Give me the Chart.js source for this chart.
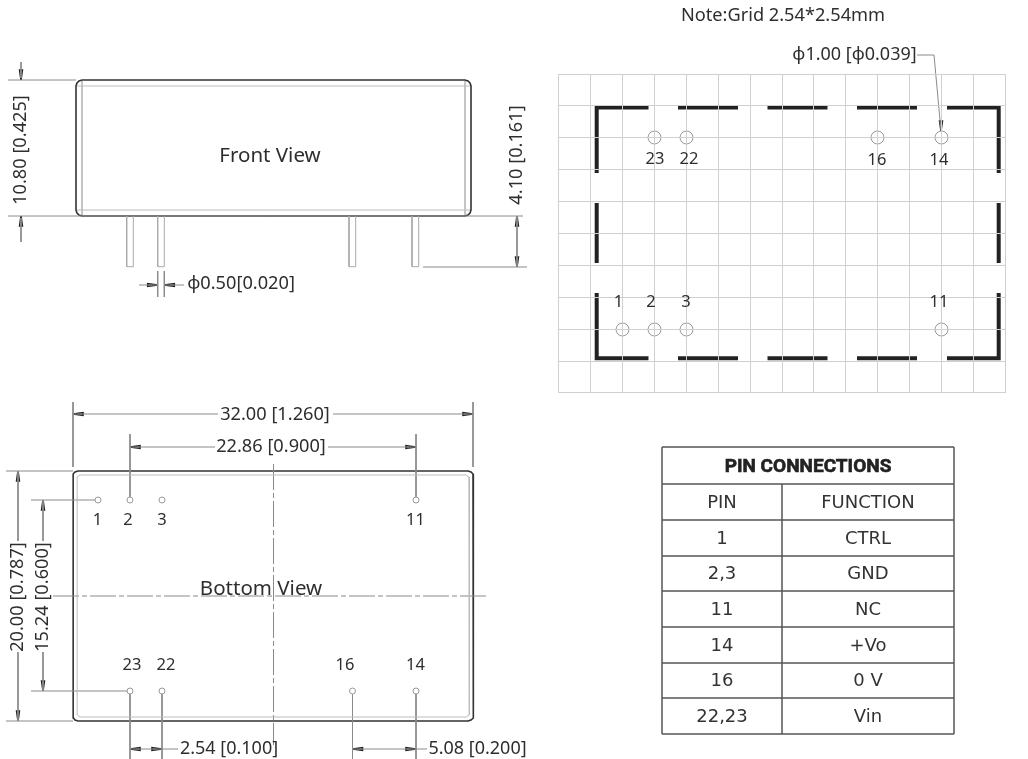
<!DOCTYPE html>
<html><head><meta charset="utf-8">
<style>html,body{margin:0;padding:0;background:#fff}canvas{display:block;filter:blur(0.35px)}</style>
<script src="https://cdn.jsdelivr.net/npm/chart.js@4"></script>
</head><body><canvas id="c" width="1028" height="759"></canvas>
<script>
// Drawing geometry, in drawing units, as polylines [x1,y1,x2,y2,...]
const frontOutline=[[82,80,465,80,468,81,470,83,471,86,471,210,470,213,468,215,465,216,82,216,79,215,77,213,76,210,76,86,77,83,79,81,82,80]];
const frontInner=[[82,81,82,215],[465,81,465,215],[77,86,470,86],[77,210,470,210]];
const frontPins=[[126.7,216,126.7,266.7,133.3,266.7,133.3,216],[157.7,216,157.7,266.7,164.3,266.7,164.3,216],[349,216,349,266.7,355.7,266.7,355.7,216],[412,216,412,266.7,418.7,266.7,418.7,216]];
const frontDims=[[8,80,76,80],[21,62,21,78],[8,216,523,216],[21,218,21,242],[517,216,517,267],[423,267,527,267],[157.7,271,157.7,297],[164.3,271,164.3,297],[139,285,157,285],[165,285,184,285]];
const gridX=[558.5,590.5,622.5,654.5,686.5,718.5,750.5,782.5,813.5,845.5,877.5,909.5,941.5,973.5,1005.5];
const gridY=[74.5,105.5,137.5,169.5,201.5,233.5,265.5,297.5,329.5,361.5,392.5];
const padThick=[[596.7,173,596.7,107.5,648.5,107.5],[678,107.5,738,107.5],[767.5,107.5,827.5,107.5],[857,107.5,917,107.5],[947,107.5,998.7,107.5,998.7,173],[596.7,203,596.7,263],[998.7,203,998.7,263],[596.7,293,596.7,358.3,648.5,358.3],[678,358.3,738,358.3],[767.5,358.3,827.5,358.3],[857,358.3,917,358.3],[947,358.3,998.7,358.3,998.7,293]];
const padLeader=[[917,55,934,55,941,131]];
const padPinX=[654.5,686.5,877.5,941.5,622.5,654.5,686.5,941.5];
const padPinY=[137.5,137.5,137.5,137.5,329.5,329.5,329.5,329.5];
const bottomOutline=[[78,471,468,471,471,472,473,474,473.5,477,473.5,715,473,718,471,720,468,721,78,721,75,720,73.5,718,73,715,73,477,73.5,474,75,472,78,471]];
const bottomInner=[[80,475,466,475,469,477,469.5,480,469.5,712,469,715,466,717,80,717,77.5,715,77,712,77,480,77.5,477,80,475]];
const bottomCenter=[[53,596,486,596],[273.5,464,273.5,745]];
const bottomDims=[[73,402,73,467],[473,402,473,467],[73,414,218,414],[333,414,473,414],[130,434,130,497],[416,434,416,497],[130,447,215,447],[328,447,416,447],[6,471,73,471],[6,721,73,721],[18,471,18,541],[18,652,18,721],[43,500,43,541],[43,652,43,691],[31,500,95,500],[31,691,127,691],[130,694,130,759],[162,694,162,759],[352.5,694,352.5,759],[416,694,416,759],[130,749,178,749],[352.5,749,427,749]];
const bottomPinX=[98,130,162,416,130,162,352.5,416];
const bottomPinY=[500,500,500,500,691,691,691,691];
// arrow heads: tip x, tip y, direction
const arrowTips=[[21,80,'d'],[21,216,'u'],[517,216,'u'],[517,267,'d'],[157.7,285,'r'],[164.3,285,'l'],[941,131,'d'],[73,414,'l'],[473,414,'r'],[130,447,'l'],[416,447,'r'],[18,471,'u'],[18,721,'d'],[43,500,'u'],[43,691,'d'],[130,749,'l'],[162,749,'r'],[352.5,749,'l'],[416,749,'r']];
// Table
const tableX=[662,782,954];
const tableY=[447,484,520,556,591,627,663,698,734];
const pinColumn=['PIN','1','2,3','11','14','16','22,23'];
const functionColumn=['FUNCTION','CTRL','GND','NC','+Vo','0 V','Vin'];
const tableTitle='PIN CONNECTIONS';
// Texts: string, x, y, size, rotated?
const labelTexts=['Note:Grid 2.54*2.54mm','ϕ1.00 [ϕ0.039]','Front View','10.80 [0.425]','4.10 [0.161]','ϕ0.50[0.020]','Bottom View','32.00 [1.260]','22.86 [0.900]','20.00 [0.787]','15.24 [0.600]','2.54 [0.100]','5.08 [0.200]'];
const labelX=[783,854.5,270,21,517,241,261,275,271,18,43,229,477.5];
const labelY=[16,55,156,150,155,284,589,415,447,597,597,749,749];
const labelSize=[18.2,18,20.5,18.2,18.2,18.2,20.5,18.2,18.2,18.2,18.2,18,18];
const labelRot=[0,0,0,1,1,0,0,0,0,1,1,0,0];
const pinLabels=['23','22','16','14','1','2','3','11','1','2','3','11','23','22','16','14'];
const pinLabelX=[655,689,877,939,618.5,651,686,939,97.5,128,162,415.5,132,166,345,415.5];
const pinLabelY=[159,159,160,160,302,302,302,302,520,520,520,520,665,665,665,665];

const INK='#2e2e2e';
function seg(list){const o=[];list.forEach(s=>{for(let i=0;i<s.length;i+=2)o.push({x:s[i],y:s[i+1]});o.push({x:NaN,y:NaN});});return o;}
function line(label,list,color,width,dash){return {label,data:seg(list),showLine:true,spanGaps:false,borderColor:color,backgroundColor:color,borderWidth:width,borderDash:dash||[],pointRadius:0,pointHoverRadius:0,clip:false,borderJoinStyle:'miter',borderCapStyle:'butt'};}
function dots(label,xs,ys,r){return {label,data:xs.map((x,i)=>({x,y:ys[i]})),showLine:false,pointRadius:r,pointHoverRadius:r,pointBackgroundColor:'rgba(255,255,255,0)',pointBorderColor:'#999',pointBorderWidth:1,clip:false};}
const L=10,W=1.4;
const arrowShapes=arrowTips.map(([x,y,d])=>{
  if(d==='l')return [x,y,x+L,y-W,x+L,y+W,x,y];
  if(d==='r')return [x,y,x-L,y-W,x-L,y+W,x,y];
  if(d==='u')return [x,y,x-W,y+L,x+W,y+L,x,y];
  return [x,y,x-W,y-L,x+W,y-L,x,y];
});
const gridSegs=[...gridX.map(x=>[x,74,x,393]),...gridY.map(y=>[558,y,1006,y])];
const tableSegs=[...tableY.map(y=>[tableX[0],y,tableX[2],y]),[tableX[0],tableY[0],tableX[0],tableY[8]],[tableX[2],tableY[0],tableX[2],tableY[8]],[tableX[1],tableY[1],tableX[1],tableY[8]]];

const textPlugin={id:'drawingText',afterDatasetsDraw(chart){
  const {ctx,scales:{x,y}}=chart;ctx.save();ctx.textAlign='center';ctx.textBaseline='middle';ctx.fillStyle=INK;
  const font='"Noto Sans","Open Sans",sans-serif';
  labelTexts.forEach((t,i)=>{ctx.save();ctx.translate(x.getPixelForValue(labelX[i]),y.getPixelForValue(labelY[i]));if(labelRot[i])ctx.rotate(-Math.PI/2);ctx.font=labelSize[i]+'px '+font;ctx.fillText(t,0,0);ctx.restore();});
  ctx.font='16.5px '+font;
  pinLabels.forEach((t,i)=>ctx.fillText(t,x.getPixelForValue(pinLabelX[i]),y.getPixelForValue(pinLabelY[i])));
  ctx.font='bold 19px "Roboto",sans-serif';
  ctx.fillStyle='#222';ctx.strokeStyle='#222';ctx.lineWidth=0.6;
  const tx=x.getPixelForValue((tableX[0]+tableX[2])/2),ty=y.getPixelForValue((tableY[0]+tableY[1])/2+1.5);
  ctx.fillText(tableTitle,tx,ty);ctx.strokeText(tableTitle,tx,ty);
  ctx.font='18px "DejaVu Sans",sans-serif';ctx.fillStyle='#333';
  pinColumn.forEach((t,i)=>{const cy=y.getPixelForValue((tableY[i+1]+tableY[i+2])/2+1);
    ctx.fillText(t,x.getPixelForValue((tableX[0]+tableX[1])/2),cy);
    ctx.fillText(functionColumn[i],x.getPixelForValue((tableX[1]+tableX[2])/2),cy);});
  ctx.restore();
}};
new Chart(document.getElementById('c'),{type:'scatter',data:{datasets:[
  line('grid',gridSegs,'#d0d0d4',1),
  line('inner',[...frontInner,...bottomInner],'#bcbcbc',1),
  line('pins',frontPins,'#aaa',1),
  line('dims',[...frontDims,...bottomDims,...padLeader],'#8a8a8a',1),
  line('center',bottomCenter,'#8a8a8a',1,[26,3,5,3]),
  line('outline',[...frontOutline,...bottomOutline],'#333',1.6),
  line('pad',padThick,'#222',4),
  line('arrows',arrowShapes,'#222',1.6),
  line('table',tableSegs,'#555',1.5),
  dots('padPins',padPinX,padPinY,6.5),
  dots('bottomPins',bottomPinX,bottomPinY,3),
]},options:{responsive:false,animation:false,layout:{padding:0,autoPadding:false},
  plugins:{legend:{display:false},tooltip:{enabled:false}},
  scales:{x:{type:'linear',min:0,max:1028,display:false},y:{type:'linear',min:0,max:759,reverse:true,display:false}}},
 plugins:[textPlugin]});
</script></body></html>
